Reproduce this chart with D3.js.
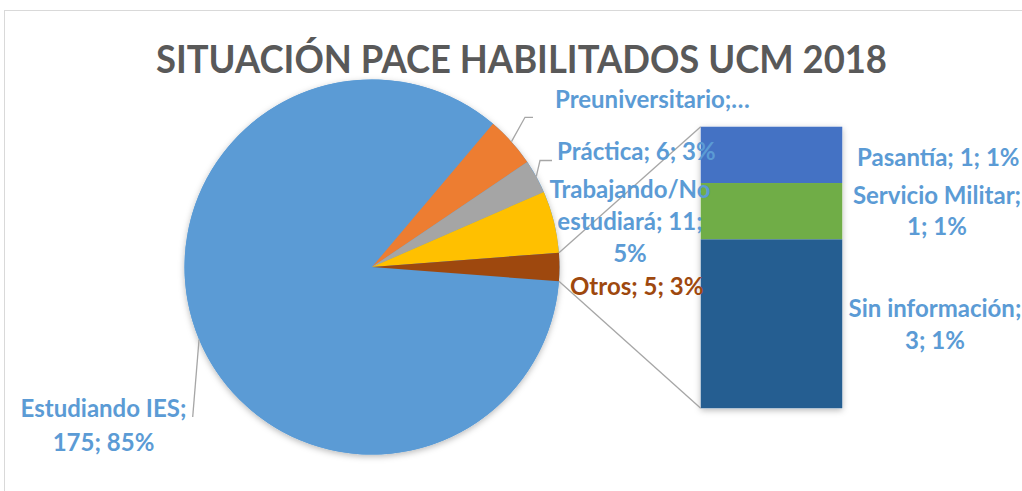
<!DOCTYPE html>
<html>
<head>
<meta charset="utf-8">
<script src="https://cdn.jsdelivr.net/npm/d3@7"></script>
<style>
  html, body { margin: 0; padding: 0; background: #fff; }
  svg { display: block; }
  text { font-family: Lato, "Open Sans", sans-serif; font-weight: bold; }
</style>
</head>
<body>
<svg id="chart" width="1022" height="491"></svg>
<script>
// ---- data ----
const title = "SITUACIÓN PACE HABILITADOS UCM 2018";
const pieCategories = ["Estudiando IES", "Preuniversitario", "Práctica", "Trabajando/No estudiará", "Otros"];
const pieValues = [175, 9, 6, 11, 5];
const piePercents = ["85%", "4%", "3%", "5%", "3%"];
const pieColors = ["#5B9BD5", "#ED7D31", "#A5A5A5", "#FFC000", "#9E480E"];
const barCategories = ["Pasantía", "Servicio Militar", "Sin información"];
const barValues = [1, 1, 3];
const barPercents = ["1%", "1%", "1%"];
const barColors = ["#4472C4", "#70AD47", "#255E91"];

// ---- layout ----
const svg = d3.select("#chart");
const cx = 372, cy = 267, R = 187.5;
const barX = 700.7, barW = 141.6, barTop = 126.7, barBottom = 408.3;
const labelBlue = "#5B9BD5", labelBrown = "#9E480E", leaderColor = "#A6A6A6";
const fs = 24;

const defs = svg.append("defs");
const f = defs.append("filter").attr("id", "sh").attr("x", "-20%").attr("y", "-20%").attr("width", "140%").attr("height", "140%");
f.append("feDropShadow").attr("dx", 0).attr("dy", 2).attr("stdDeviation", 3).attr("flood-color", "#000").attr("flood-opacity", 0.28);

// frame
svg.append("rect").attr("x", 4.5).attr("y", 10.5).attr("width", 1100).attr("height", 600)
  .attr("fill", "none").attr("stroke", "#D9D9D9").attr("stroke-width", 1);

// title
svg.append("text").attr("x", 156).attr("y", 72.5).attr("font-size", 38).attr("fill", "#595959")
  .attr("textLength", 731).attr("lengthAdjust", "spacingAndGlyphs").text(title);

// pie: last slice ("Otros") centred on the 3 o'clock direction
const otrosSpan = 2 * Math.PI * pieValues[4] / d3.sum(pieValues);
const start = Math.PI / 2 + otrosSpan / 2;
const pie = d3.pie().sort(null).value(d => d).startAngle(start).endAngle(start + 2 * Math.PI);
const arcs = pie(pieValues);
const arc = d3.arc().innerRadius(0).outerRadius(R);

const pg = svg.append("g").attr("transform", `translate(${cx},${cy})`);
pg.append("circle").attr("r", R).attr("fill", pieColors[0]).attr("filter", "url(#sh)");
pg.selectAll("path").data(arcs).join("path")
  .attr("d", arc).attr("fill", (d, i) => pieColors[i]);

const rim = (a, r = R) => [cx + r * Math.sin(a), cy - r * Math.cos(a)];

// stacked bar
const y = d3.scaleLinear().domain([0, d3.sum(barValues)]).range([barTop, barBottom]);
let acc = 0;
const stacks = barValues.map((v, i) => { const s = { y0: acc, y1: acc + v, i }; acc += v; return s; });
svg.append("rect").attr("x", barX).attr("y", barTop).attr("width", barW).attr("height", barBottom - barTop)
  .attr("fill", "#fff").attr("filter", "url(#sh)");
svg.selectAll("rect.bar").data(stacks).join("rect").attr("class", "bar")
  .attr("x", barX).attr("width", barW)
  .attr("y", d => y(d.y0)).attr("height", d => y(d.y1) - y(d.y0))
  .attr("fill", d => barColors[d.i]);

// connector lines
const ot = arcs[4];
const pTop = rim(ot.startAngle), pBot = rim(ot.endAngle);
const conn = svg.append("g").attr("stroke", leaderColor).attr("stroke-width", 1.3).attr("fill", "none");
conn.append("line").attr("x1", pTop[0]).attr("y1", pTop[1]).attr("x2", barX).attr("y2", y(0));
conn.append("line").attr("x1", pBot[0]).attr("y1", pBot[1]).attr("x2", barX).attr("y2", y(d3.sum(barValues)));

// leader lines
const mid = d => (d.startAngle + d.endAngle) / 2;
const leaders = svg.append("g").attr("stroke", leaderColor).attr("stroke-width", 1.3).attr("fill", "none");
{
  const p = rim(mid(arcs[0]));
  leaders.append("polyline").attr("points", [p, [192.7, 417]].map(q => q.join(",")).join(" "));
  const p1 = rim(mid(arcs[1]));
  leaders.append("polyline").attr("points", [p1, [525, 117.3], [533, 117.3]].map(q => q.join(",")).join(" "));
  const p2 = rim(mid(arcs[2]));
  leaders.append("polyline").attr("points", [p2, [540, 160.5], [552, 160.5]].map(q => q.join(",")).join(" "));
}

// labels
function label(lines, x, y0, lh, anchor, color) {
  const t = svg.append("text").attr("font-size", fs).attr("fill", color).attr("text-anchor", anchor);
  lines.forEach((s, k) => t.append("tspan").attr("x", x).attr("y", y0 + k * lh).text(s));
}
label([`${pieCategories[0]};`, `${pieValues[0]}; ${piePercents[0]}`], 103.5, 417, 34, "middle", labelBlue);
label([`${pieCategories[1]};…`], 555, 108, 32, "start", labelBlue);
label([`${pieCategories[2]}; ${pieValues[2]}; ${piePercents[2]}`], 557, 160, 32, "start", labelBlue);
{
  const [w1, w2] = pieCategories[3].split(" ");
  label([w1, `${w2}; ${pieValues[3]};`, piePercents[3]], 630, 198, 32, "middle", labelBlue);
}
label([`${pieCategories[4]}; ${pieValues[4]}; ${piePercents[4]}`], 570, 295, 32, "start", labelBrown);
label([`${barCategories[0]}; ${barValues[0]}; ${barPercents[0]}`], 857, 166, 32, "start", labelBlue);
label([`${barCategories[1]};`, `${barValues[1]}; ${barPercents[1]}`], 937, 204, 31, "middle", labelBlue);
label([`${barCategories[2]};`, `${barValues[2]}; ${barPercents[2]}`], 935, 317, 32, "middle", labelBlue);
</script>
</body>
</html>
